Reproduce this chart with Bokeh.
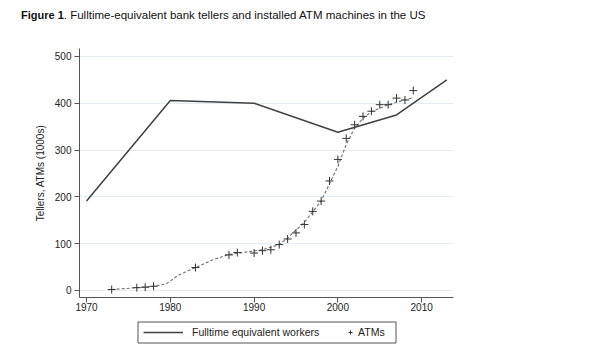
from bokeh.plotting import figure
from bokeh.models import (Range1d, FixedTicker, Legend, LegendItem, Div,
                          BoxAnnotation)
from bokeh.layouts import column
from bokeh.embed import file_html
from bokeh.resources import INLINE

# ---- data ----
teller_years = [1970, 1980, 1990, 2000, 2007, 2013]
tellers = [191, 406, 400, 338, 375, 450]

atm_years = [1973, 1976, 1977, 1978, 1983, 1987, 1988, 1990, 1991, 1992, 1993,
             1994, 1995, 1996, 1997, 1998, 1999, 2000, 2001, 2002, 2003, 2004,
             2005, 2006, 2007, 2008, 2009]
atms = [2, 6, 7, 9, 49, 76, 81, 80, 85, 87, 98,
        110, 123, 141, 169, 191, 234, 280, 325, 354, 372, 383,
        397, 397, 411, 407, 427]

fit_years = [1973, 1976, 1978, 1979.5, 1981, 1983, 1985, 1987, 1989, 1991,
             1993, 1994, 1996, 1998, 2000, 2001, 2002, 2003, 2004, 2006,
             2008, 2009]
atm_fit = [2, 6, 9, 14, 33, 49, 65, 77, 82, 87,
           98, 112, 146, 191, 265, 312, 347, 368, 382, 397,
           407, 412]

y_ticks = [0, 100, 200, 300, 400, 500]
x_ticks = [1970, 1980, 1990, 2000, 2010]

title_bold = "Figure 1"
title_rest = ". Fulltime-equivalent bank tellers and installed ATM machines in the US"
y_title = "Tellers, ATMs (1000s)"
legend_labels = ["Fulltime equivalent workers", "ATMs"]

FONT = "Liberation Sans"
W = 580
DIV_H = 30
H1 = 288
H2 = 28
FRAME_L, FRAME_R = 79, 453

TELLER_STYLE = dict(line_color="#404040", line_width=1.5)
ATM_STYLE = dict(marker="cross", size=8, line_color="#333333", line_width=1)

title = Div(
    text=(f'<div style="padding-left:21px;padding-top:8px;line-height:14px;'
          f'font-family:{FONT};color:#111111;white-space:nowrap;">'
          f'<b style="font-size:11px;">{title_bold}</b>'
          f'<span style="font-size:11.5px;">{title_rest}</span></div>'),
    width=W, height=DIV_H, margin=(0, 0, 0, 0))

# ---- main plot ----
p = figure(width=W, height=H1, output_backend="svg", toolbar_location=None,
           x_range=Range1d(1969.16, 2013.8), y_range=Range1d(-15, 517),
           min_border_left=FRAME_L, min_border_right=W - FRAME_R,
           min_border_top=18, min_border_bottom=21, margin=(0, 0, 0, 0))
p.outline_line_color = None
p.background_fill_color = "white"
p.border_fill_color = "white"

for ax in (p.xaxis[0], p.yaxis[0]):
    ax.axis_line_color = "#555555"
    ax.axis_line_width = 1
    ax.major_tick_line_color = "#555555"
    ax.major_tick_out = 5
    ax.major_tick_in = 0
    ax.minor_tick_line_color = None
    ax.major_label_text_font = FONT
    ax.major_label_text_font_size = "10px"
    ax.major_label_text_color = "#222222"
p.xaxis.ticker = FixedTicker(ticks=x_ticks)
p.yaxis.ticker = FixedTicker(ticks=y_ticks)
p.xaxis.major_label_standoff = 0
p.yaxis.major_label_standoff = 3
p.yaxis.axis_label = y_title
p.yaxis.axis_label_text_font = FONT
p.yaxis.axis_label_text_font_size = "10px"
p.yaxis.axis_label_text_font_style = "normal"
p.yaxis.axis_label_text_color = "#222222"
p.yaxis.axis_label_standoff = 6

p.xgrid.grid_line_color = None
p.ygrid.grid_line_color = "#e4eef0"
p.ygrid.grid_line_width = 1

p.line(teller_years, tellers, **TELLER_STYLE)
p.line(fit_years, atm_fit, line_color="#707070", line_width=1.1,
       line_dash="3 2")
p.scatter(atm_years, atms, **ATM_STYLE)

# ---- legend strip (frame aligned with main plot; x in page pixels) ----
q = figure(width=W, height=H2, output_backend="svg", toolbar_location=None,
           x_range=Range1d(FRAME_L, FRAME_R), y_range=Range1d(0, H2),
           x_axis_type=None, y_axis_type=None,
           min_border_left=FRAME_L, min_border_right=W - FRAME_R,
           min_border_top=0, min_border_bottom=0, margin=(0, 0, 0, 0))
q.outline_line_color = None
q.xgrid.visible = False
q.ygrid.visible = False
# same series, entirely outside this strip's ranges: used only as legend keys
r_line = q.line(teller_years, tellers, **TELLER_STYLE)
r_plus = q.scatter(atm_years, atms, **ATM_STYLE)

q.add_layout(BoxAnnotation(left=137.5, right=395.5, bottom=3.5, top=24.5,
                           fill_alpha=0, line_color="#555555",
                           line_alpha=1, line_width=1, level="overlay"))
common = dict(orientation="horizontal", border_line_color=None,
              background_fill_alpha=0, padding=0, margin=0, spacing=0,
              glyph_height=20, label_height=20,
              label_text_font=FONT, label_text_font_size="10.5px",
              label_text_color="#222222")
q.add_layout(Legend(items=[LegendItem(label=legend_labels[0],
                                      renderers=[r_line])],
                    location=(143 - FRAME_L, 4), glyph_width=40,
                    label_standoff=9, **common))
q.add_layout(Legend(items=[LegendItem(label=legend_labels[1],
                                      renderers=[r_plus])],
                    location=(345 - FRAME_L, 4), glyph_width=10,
                    label_standoff=3, **common))

open("out.html", "w").write(
    file_html(column(title, p, q, spacing=0), INLINE))
